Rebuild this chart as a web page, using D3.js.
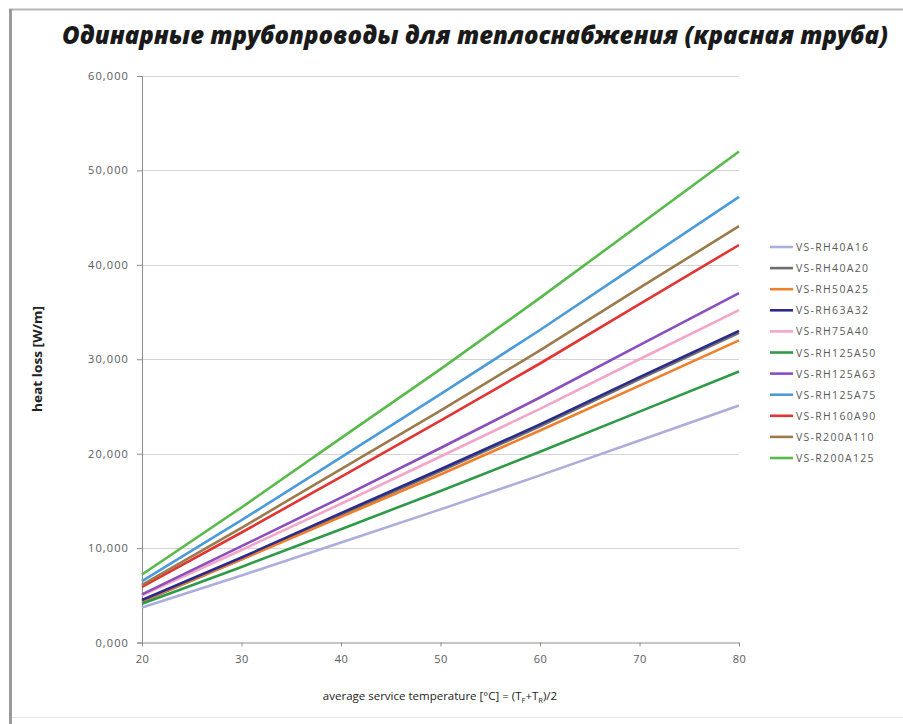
<!DOCTYPE html>
<html><head><meta charset="utf-8">
<script src="https://cdnjs.cloudflare.com/ajax/libs/d3/7.8.5/d3.min.js"></script>
<style>body{margin:0;background:#fff}svg{display:block}</style>
</head><body>
<svg id="c" width="903" height="724"></svg>
<script>
const temps = [20, 30, 40, 50, 60, 70, 80];
const seriesNames = ["VS-RH40A16","VS-RH40A20","VS-RH50A25","VS-RH63A32","VS-RH75A40","VS-RH125A50","VS-RH125A63","VS-RH125A75","VS-RH160A90","VS-R200A110","VS-R200A125"];
const seriesColors = ["#adaddd","#6e6e6e","#ef7f2c","#2b2b8e","#f3a6c9","#2f9a47","#8a4fbf","#4b9bd9","#e33434","#9c7a4b","#58ba4a"];
const RH40A16   = [3700, 7100, 10600, 14100, 17700, 21400, 25100];
const RH40A20   = [4300, 8800, 13500, 18150, 22900, 27900, 32800];
const RH50A25   = [4400, 8800, 13300, 17800, 22450, 27200, 32000];
const RH63A32   = [4500, 9000, 13700, 18350, 23100, 28100, 33000];
const RH75A40   = [5000, 9800, 14700, 19700, 24750, 30000, 35200];
const RH125A50  = [4100, 8000, 12000, 16050, 20200, 24450, 28700];
const RH125A63  = [5100, 10200, 15350, 20600, 25950, 31500, 37000];
const RH125A75  = [6500, 12950, 19600, 26300, 33100, 40150, 47200];
const RH160A90  = [5900, 11650, 17550, 23500, 29550, 35850, 42100];
const R200A110  = [6100, 12150, 18350, 24550, 30950, 37550, 44100];
const R200A125  = [7200, 14300, 21650, 28950, 36500, 44250, 52000];
const seriesValues = [RH40A16, RH40A20, RH50A25, RH63A32, RH75A40, RH125A50, RH125A63, RH125A75, RH160A90, R200A110, R200A125];
const yTicks = [0, 10000, 20000, 30000, 40000, 50000, 60000];
const xTicks = [20, 30, 40, 50, 60, 70, 80];
const titleText = "Одинарные трубопроводы для теплоснабжения (красная труба)";

const svg = d3.select("#c");
const tickFont = "'Open Sans', sans-serif";
// frame
svg.append("line").attr("x1",9).attr("x2",903).attr("y1",9.5).attr("y2",9.5).attr("stroke","#b5b5b5").attr("stroke-width",2);
svg.append("line").attr("x1",10.5).attr("x2",10.5).attr("y1",9).attr("y2",724).attr("stroke","#9a9a9a").attr("stroke-width",3);
svg.append("line").attr("x1",12).attr("x2",903).attr("y1",717.5).attr("y2",717.5).attr("stroke","#e6e6e6").attr("stroke-width",1);

const x = d3.scaleLinear().domain([20, 80]).range([142, 739]);
const y = d3.scaleLinear().domain([0, 60000]).range([642.5, 76]);

// gridlines
svg.append("g").selectAll("line").data(yTicks.slice(1)).join("line")
  .attr("x1", x(20)).attr("x2", x(80))
  .attr("y1", d => Math.round(y(d))+0.5).attr("y2", d => Math.round(y(d))+0.5)
  .attr("stroke", "#d4d4d4").attr("stroke-width", 1);

const yAxis = d3.axisLeft(y).tickValues(yTicks).tickSize(5).tickPadding(8)
  .tickFormat(d => d === 0 ? "0,000" : d3.format(",")(d));
const gy = svg.append("g").attr("transform", `translate(${x(20)},0)`).call(yAxis);
gy.select(".domain").attr("stroke", "#8c8c8c");
gy.selectAll(".tick line").attr("stroke", "#8c8c8c");
gy.selectAll("text").attr("fill", "#5a5a5a").style("font-family", tickFont).style("font-size", "11px").style("letter-spacing", "1.1px");

const xAxis = d3.axisBottom(x).tickValues(xTicks).tickSize(4).tickPadding(9).tickSizeOuter(0);
const gx = svg.append("g").attr("transform", `translate(0,${y(0)})`).call(xAxis);
gx.select(".domain").attr("stroke", "#8c8c8c");
gx.selectAll(".tick line").attr("stroke", "#8c8c8c");
gx.selectAll("text").attr("fill", "#5a5a5a").style("font-family", tickFont).style("font-size", "11px").style("letter-spacing", "0.5px");

// lines
const line = d3.line().x((d, i) => x(temps[i])).y(d => y(d));
svg.append("g").selectAll("path").data(seriesValues).join("path")
  .attr("d", line).attr("fill", "none")
  .attr("stroke", (d, i) => seriesColors[i]).attr("stroke-width", 2.6)
  .attr("stroke-linejoin", "round");

// legend
const lg = svg.append("g");
seriesNames.forEach((n, i) => {
  const yy = 247 + i * 21.1;
  lg.append("line").attr("x1", 770).attr("x2", 793).attr("y1", yy).attr("y2", yy)
    .attr("stroke", seriesColors[i]).attr("stroke-width", 2.6);
  lg.append("text").attr("x", 796).attr("y", yy + 4).text(n)
    .attr("fill", "#5a5a5a").style("font-family", tickFont).style("font-size", "10.5px").style("letter-spacing", "1.3px");
});

// title
svg.append("text").attr("x", 475).attr("y", 44).attr("text-anchor", "middle")
  .attr("textLength", 826).attr("lengthAdjust", "spacingAndGlyphs")
  .style("font-family", "'Open Sans', sans-serif").style("font-weight", "800").style("font-style", "italic")
  .style("font-size", "24px").attr("fill", "#1a1a1a").text(titleText);

// axis titles
svg.append("text").attr("transform", "translate(42,359) rotate(-90)").attr("text-anchor", "middle")
  .attr("textLength", 106).attr("lengthAdjust", "spacingAndGlyphs")
  .style("font-family", "'Open Sans', sans-serif").style("font-weight", "bold").style("font-size", "12px")
  .attr("fill", "#222").text("heat loss [W/m]");

const xt = svg.append("text").attr("x", 440).attr("y", 700).attr("text-anchor", "middle")
  .style("font-family", "'Open Sans', sans-serif").style("font-size", "11.5px").attr("fill", "#222");
xt.append("tspan").text("average service temperature [°C] = (T");
xt.append("tspan").attr("dy", 3).style("font-size", "7.5px").text("F");
xt.append("tspan").attr("dy", -3).text("+T");
xt.append("tspan").attr("dy", 3).style("font-size", "7.5px").text("R");
xt.append("tspan").attr("dy", -3).text(")/2");
</script>
</body></html>
